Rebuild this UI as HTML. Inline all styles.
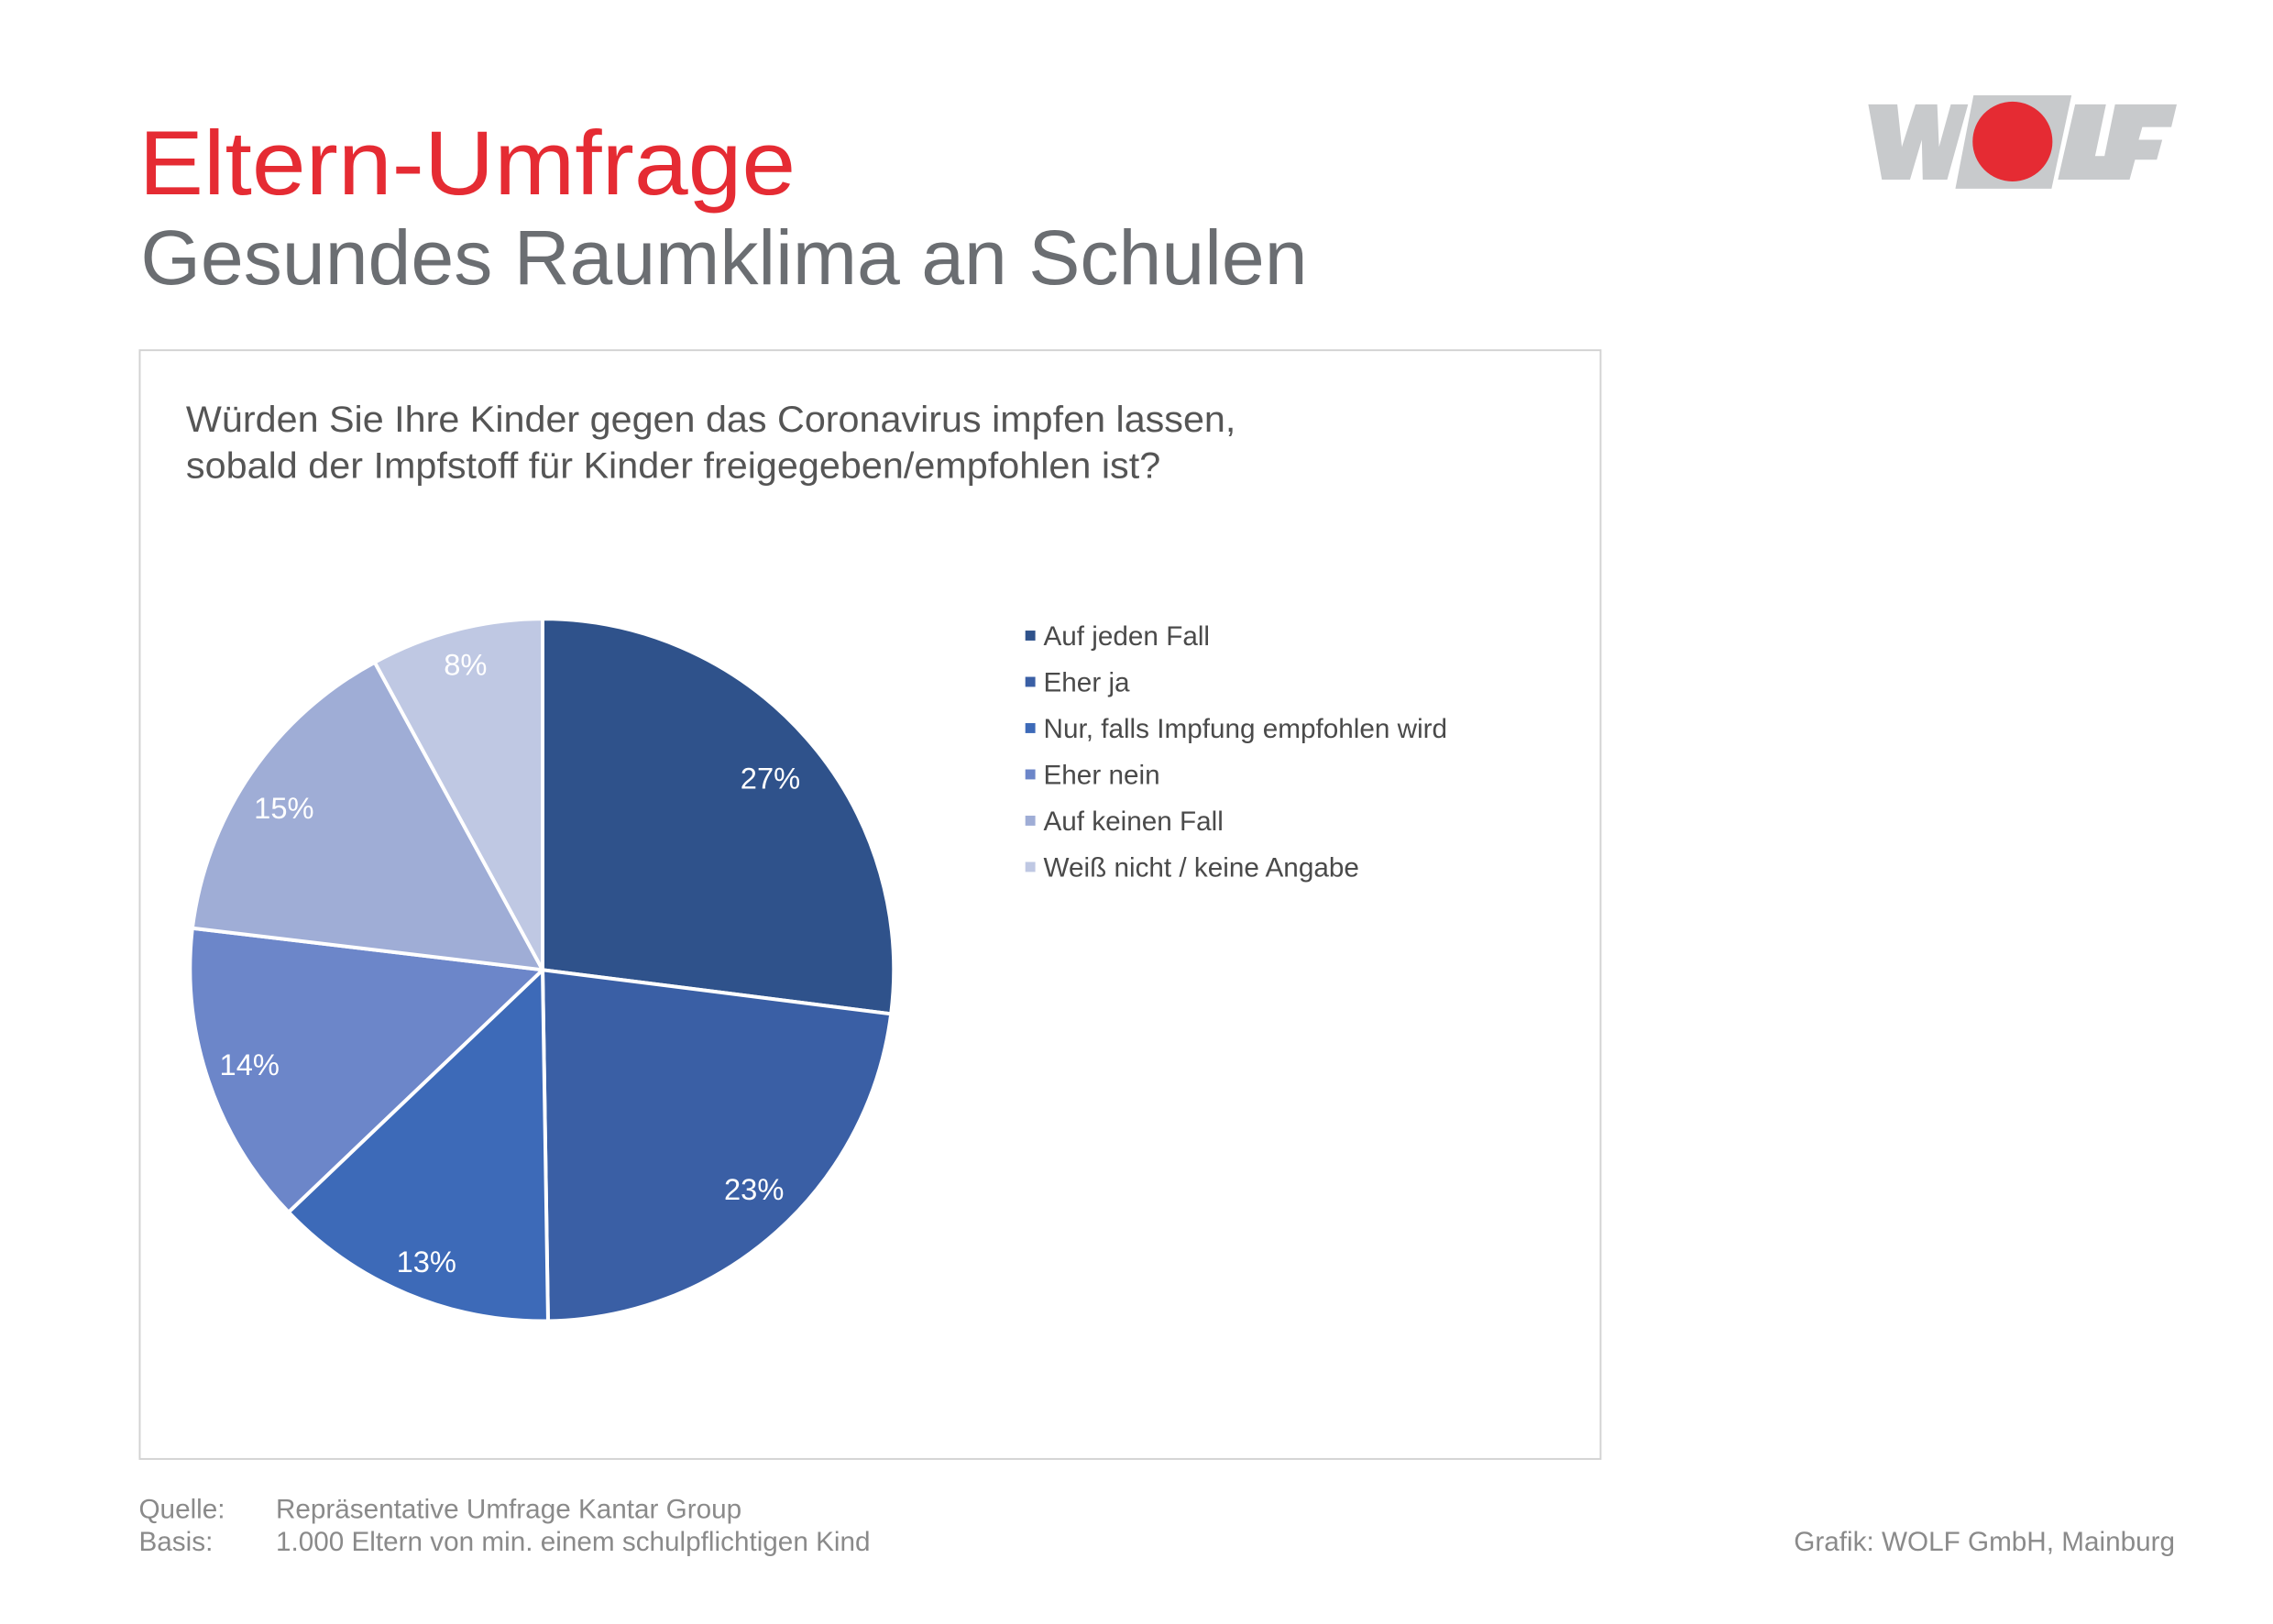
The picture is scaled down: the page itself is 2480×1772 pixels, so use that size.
<!DOCTYPE html>
<html><head><meta charset="utf-8"><style>
html,body{margin:0;padding:0;background:#fff;}
svg{display:block;}
text{font-family:"Liberation Sans",sans-serif;}
</style></head><body>
<svg width="2480" height="1772" viewBox="0 0 2480 1772" xmlns="http://www.w3.org/2000/svg">
<rect width="2480" height="1772" fill="#fff"/>
<g transform="scale(0.99)">
<text x="153" y="214" font-size="100" fill="#e52b33" textLength="724" lengthAdjust="spacingAndGlyphs">Eltern-Umfrage</text>
<text x="155" y="313" font-size="85" fill="#6b6e72" textLength="1286" lengthAdjust="spacingAndGlyphs">Gesundes Raumklima an Schulen</text>
<!-- logo -->
<g transform="translate(19,2)">
<g fill="#c8cacc">
<polygon points="2040,113 2072,113 2077,160 2092,113 2116,113 2118,160 2131,113 2150,113 2127,196 2100,196 2099,152 2086,196 2055,196"/>
<polygon points="2156,103 2264,103 2242,206 2136,206"/>
<polygon points="2268,113 2302,113 2290,170 2304,170 2298,196 2249,196"/>
<polygon points="2312,113 2380,113 2374,138 2342,138 2338,152 2364,152 2358,174 2334,174 2328,196 2295,196"/>
</g>
<circle cx="2199" cy="154" r="44" fill="#e52b33"/>
</g>
<!-- box -->
<rect x="154" y="386" width="1610" height="1222" fill="none" stroke="#d3d3d3" stroke-width="2"/>
<text x="205" y="476" font-size="40" fill="#555" textLength="1157" lengthAdjust="spacingAndGlyphs">Würden Sie Ihre Kinder gegen das Coronavirus impfen lassen,</text>
<text x="205" y="527" font-size="40" fill="#555" textLength="1074" lengthAdjust="spacingAndGlyphs">sobald der Impfstoff für Kinder freigegeben/empfohlen ist?</text>
<!-- pie -->
<g stroke="#fff" stroke-width="4" stroke-linejoin="round">
<path d="M598,1069 L598,682 A387,387 0 0 1 982,1117.5 Z" fill="#2f528b"/>
<path d="M598,1069 L982,1117.5 A387,387 0 0 1 604,1456 Z" fill="#3a5fa5"/>
<path d="M598,1069 L604,1456 A387,387 0 0 1 318,1336 Z" fill="#3d6ab8"/>
<path d="M598,1069 L318,1336 A387,387 0 0 1 212,1023 Z" fill="#6c86c9"/>
<path d="M598,1069 L212,1023 A387,387 0 0 1 413,730 Z" fill="#9fadd6"/>
<path d="M598,1069 L413,730 A387,387 0 0 1 598,682 Z" fill="#bfc8e3"/>
</g>
<g font-size="33" fill="#fff" text-anchor="middle">
<text x="849" y="869">27%</text>
<text x="831" y="1322">23%</text>
<text x="470" y="1402">13%</text>
<text x="275" y="1185">14%</text>
<text x="313" y="902">15%</text>
<text x="513" y="744">8%</text>
</g>
<!-- legend -->
<g transform="translate(11,6)">
<rect x="1119" y="689" width="11" height="11" fill="#2f528b"/>
<rect x="1119" y="740" width="11" height="11" fill="#3a5fa5"/>
<rect x="1119" y="791" width="11" height="11" fill="#3d6ab8"/>
<rect x="1119" y="842" width="11" height="11" fill="#6c86c9"/>
<rect x="1119" y="893" width="11" height="11" fill="#9fadd6"/>
<rect x="1119" y="944" width="11" height="11" fill="#bfc8e3"/>
<g font-size="30" fill="#4a4a4a">
<text x="1139" y="705">Auf jeden Fall</text>
<text x="1139" y="756">Eher ja</text>
<text x="1139" y="807">Nur, falls Impfung empfohlen wird</text>
<text x="1139" y="858">Eher nein</text>
<text x="1139" y="909">Auf keinen Fall</text>
<text x="1139" y="960">Weiß nicht / keine Angabe</text>
</g>
</g>
<!-- footer -->
<g font-size="30" fill="#8a8a8a">
<text x="153" y="1673">Quelle:</text>
<text x="304" y="1673">Repräsentative Umfrage Kantar Group</text>
<text x="153" y="1709">Basis:</text>
<text x="304" y="1709">1.000 Eltern von min. einem schulpflichtigen Kind</text>
<text x="2397" y="1709" text-anchor="end">Grafik: WOLF GmbH, Mainburg</text>
</g>
</g>
</svg>
</body></html>
